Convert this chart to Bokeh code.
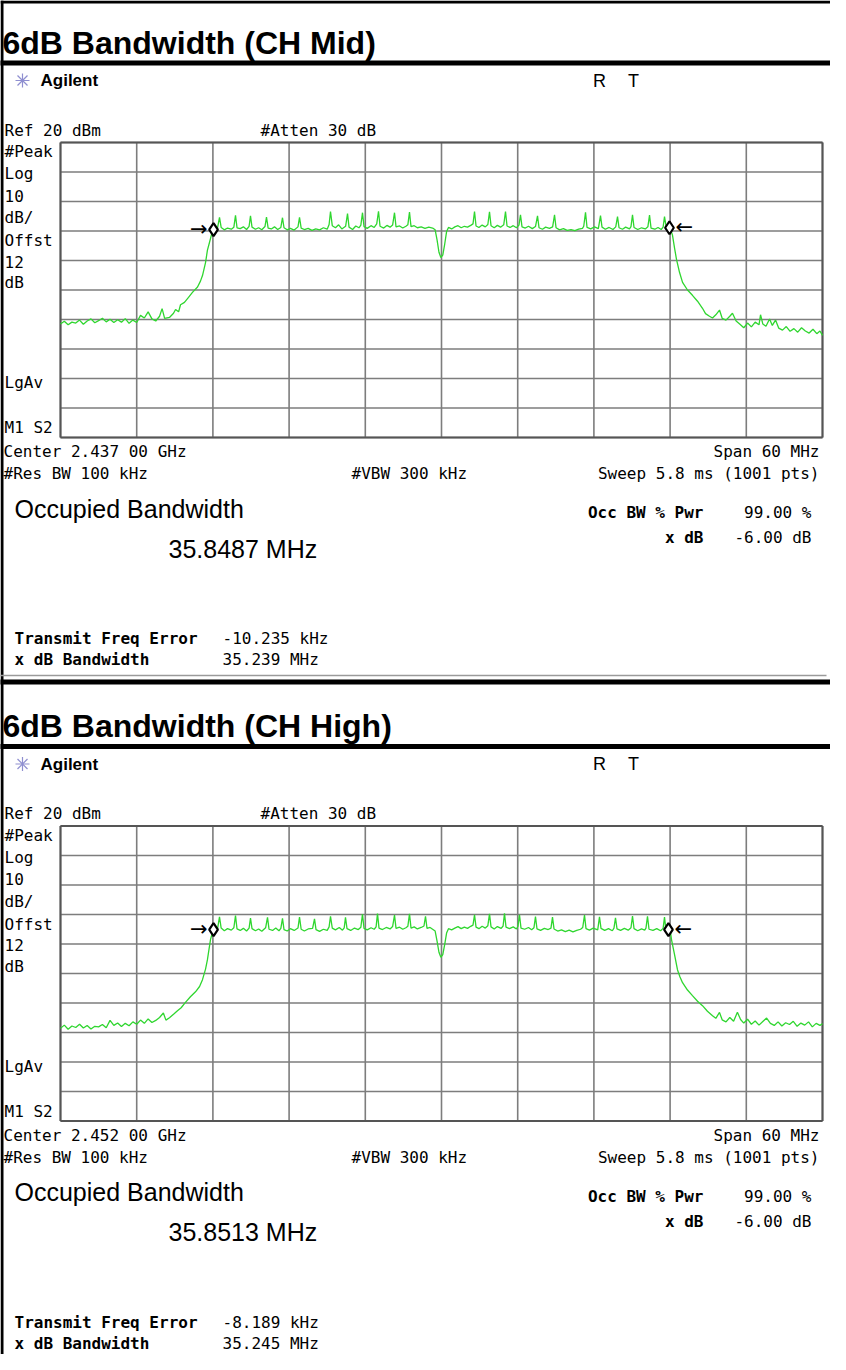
from bokeh.plotting import figure
from bokeh.models import Range1d
from bokeh.embed import file_html
from bokeh.resources import INLINE
from bokeh.core.properties import value

# ---------------- data ----------------
freq_divs = [-30, -24, -18, -12, -6, 0, 6, 12, 18, 24, 30]        # MHz offset from centre
level_divs = [20, 10, 0, -10, -20, -30, -40, -50, -60, -70, -80]  # dBm (Ref 20 dBm, 10 dB/div)

panel_titles = ["6dB Bandwidth (CH Mid)", "6dB Bandwidth (CH High)"]
center_labels = ["Center 2.437 00 GHz", "Center 2.452 00 GHz"]
occ_bw_values = ["35.8487 MHz", "35.8513 MHz"]
freq_err_values = ["-10.235 kHz", "-8.189 kHz"]
xdb_bw_values = ["35.239 MHz", "35.245 MHz"]

left_labels = ["#Peak", "Log", "10", "dB/", "Offst", "12", "dB", "LgAv", "M1 S2"]

# trace of CH Mid: (MHz offset, dBm)
mid_trace = [
    (-30.0, -41.5), (-29.7, -40.6), (-29.4, -41.8), (-29.1, -40.9), (-28.8, -41.2), (-28.5, -40.2),
    (-28.2, -41.6), (-27.9, -40.5), (-27.6, -39.8), (-27.3, -41.1), (-27.0, -40.4), (-26.7, -39.6),
    (-26.4, -40.8), (-26.1, -39.9), (-25.8, -41.0), (-25.5, -40.1), (-25.2, -40.9), (-24.9, -39.7),
    (-24.6, -41.3), (-24.3, -40.2), (-24.0, -41.0), (-23.7, -38.6), (-23.4, -39.5), (-23.1, -37.4),
    (-22.8, -39.8), (-22.5, -40.5), (-22.2, -38.9), (-22.0, -36.3), (-21.8, -39.6),
    (-21.42, -39.3), (-21.1, -37.9), (-20.94, -36.6), (-20.7, -37.4), (-20.55, -35.0), (-20.24, -34.2),
    (-19.92, -32.5), (-19.61, -30.8), (-19.21, -29.0), (-18.98, -27.0), (-18.82, -25.1), (-18.58, -20.7),
    (-18.43, -16.5), (-18.27, -13.9), (-18.11, -11.2), (-17.95, -9.5),
    (-17.80, -8.6), (-17.65, -9.3), (-17.48, -5.4), (-17.35, -8.8), (-17.10, -9.6), (-16.85, -9.0),
    (-16.55, -9.4), (-16.35, -8.7), (-16.22, -4.7), (-16.10, -8.9), (-15.85, -9.2), (-15.60, -8.6),
    (-15.35, -9.5), (-15.15, -8.4), (-15.04, -4.9), (-14.92, -8.7), (-14.65, -9.4), (-14.40, -8.9),
    (-14.15, -9.6), (-13.90, -8.5), (-13.78, -5.3), (-13.65, -9.0), (-13.40, -9.3), (-13.15, -8.6),
    (-12.90, -9.5), (-12.65, -8.8), (-12.52, -5.5), (-12.40, -8.9), (-12.15, -9.6), (-11.90, -9.1),
    (-11.60, -9.7), (-11.30, -8.6), (-11.18, -5.4), (-11.05, -9.0), (-10.80, -9.5), (-10.50, -9.1),
    (-10.20, -9.8), (-9.90, -9.3), (-9.60, -9.6), (-9.30, -8.9), (-9.00, -9.4), (-8.85, -7.8),
    (-8.74, -3.4), (-8.60, -8.2), (-8.35, -8.9), (-8.10, -7.9), (-7.85, -9.3), (-7.55, -8.4),
    (-7.40, -4.1), (-7.28, -8.7), (-7.00, -9.5), (-6.75, -8.3), (-6.50, -8.9), (-6.35, -8.0),
    (-6.22, -3.8), (-6.10, -8.5), (-5.85, -9.1), (-5.55, -8.2), (-5.30, -8.8), (-5.10, -7.6),
    (-4.96, -3.3), (-4.84, -8.4), (-4.55, -9.0), (-4.30, -8.1), (-4.05, -8.7), (-3.85, -8.0),
    (-3.70, -3.8), (-3.58, -8.6), (-3.30, -8.3), (-3.05, -9.0), (-2.80, -8.4), (-2.65, -7.9),
    (-2.52, -3.6), (-2.40, -8.5), (-2.15, -8.2), (-1.90, -8.9), (-1.60, -8.6), (-1.30, -9.1),
    (-1.00, -8.7), (-0.70, -9.0), (-0.50, -9.6), (-0.35, -13.0), (-0.20, -17.2), (-0.05, -19.0),
    (0.10, -18.2), (0.25, -14.5), (0.40, -10.2), (0.55, -8.8), (0.80, -9.3), (1.05, -8.6),
    (1.30, -8.2), (1.55, -8.9), (1.80, -8.4), (2.05, -8.7), (2.30, -8.1), (2.48, -7.6),
    (2.60, -3.4), (2.72, -8.3), (2.95, -8.8), (3.20, -8.0), (3.45, -8.6), (3.65, -7.8),
    (3.78, -3.5), (3.90, -8.2), (4.15, -8.9), (4.40, -8.1), (4.65, -8.7), (4.90, -7.9),
    (5.04, -3.4), (5.16, -8.3), (5.40, -8.8), (5.65, -8.2), (5.90, -8.9), (6.10, -8.0),
    (6.22, -4.5), (6.34, -8.6), (6.60, -9.0), (6.85, -8.4), (7.15, -9.2), (7.40, -8.5),
    (7.56, -4.9), (7.68, -8.9), (7.95, -9.4), (8.20, -8.7), (8.50, -9.1), (8.75, -8.6),
    (8.90, -4.5), (9.02, -8.9), (9.30, -9.6), (9.60, -9.2), (9.90, -9.8), (10.20, -9.5),
    (10.50, -9.9), (10.80, -9.4), (11.10, -9.1), (11.20, -8.4), (11.34, -3.7), (11.46, -8.8),
    (11.75, -9.3), (12.05, -8.6), (12.35, -9.2), (12.52, -4.8), (12.64, -8.7), (12.90, -9.4),
    (13.20, -8.8), (13.50, -9.5), (13.72, -8.6), (13.86, -5.1), (13.98, -8.9), (14.25, -9.4),
    (14.50, -8.7), (14.80, -9.3), (14.92, -8.5), (15.04, -4.5), (15.16, -8.8), (15.45, -9.5),
    (15.75, -8.9), (16.05, -9.3), (16.25, -8.6), (16.38, -4.6), (16.50, -9.0), (16.80, -9.4),
    (17.05, -8.8), (17.30, -9.5), (17.45, -8.7), (17.56, -5.1), (17.70, -8.9), (17.95, -8.9),
    (18.03, -9.2), (18.19, -11.5), (18.35, -15.8), (18.50, -19.5), (18.74, -24.0), (18.98, -27.4),
    (19.37, -30.0), (19.76, -31.8), (20.16, -33.8), (20.55, -36.2), (20.79, -38.0), (21.10, -38.9),
    (21.34, -39.5), (21.60, -38.4), (21.89, -36.8), (22.10, -39.6), (22.40, -40.2), (22.70, -38.9),
    (22.91, -37.9), (23.20, -40.5), (23.50, -41.6), (23.80, -42.8), (24.10, -41.2), (24.40, -42.5),
    (24.70, -40.9), (25.00, -41.8), (25.12, -38.4), (25.30, -41.5), (25.55, -42.3), (25.83, -39.8),
    (26.05, -42.0), (26.30, -40.2), (26.55, -42.9), (26.85, -43.6), (27.15, -42.4), (27.45, -44.0),
    (27.75, -43.1), (28.05, -44.3), (28.35, -42.8), (28.65, -43.9), (28.95, -44.6), (29.25, -43.3),
    (29.55, -44.8), (29.80, -43.9), (30.00, -45.4),
]

# trace of CH High: (MHz offset, dBm)
high_trace = [
    (-30.0, -48.6), (-29.7, -47.5), (-29.4, -48.9), (-29.1, -47.8), (-28.8, -48.3), (-28.5, -47.2),
    (-28.2, -48.5), (-27.9, -47.6), (-27.6, -48.8), (-27.3, -47.9), (-27.0, -48.1), (-26.7, -47.3),
    (-26.4, -48.4), (-26.1, -45.9), (-25.8, -47.6), (-25.5, -46.8), (-25.2, -48.0), (-24.9, -46.9),
    (-24.6, -47.7), (-24.3, -46.4), (-24.0, -47.2), (-23.7, -45.8), (-23.4, -46.9), (-23.1, -45.4),
    (-22.8, -46.6), (-22.5, -45.9), (-22.2, -44.9), (-21.9, -43.4), (-21.7, -45.8),
    (-21.42, -45.0), (-21.10, -43.8), (-20.79, -42.6), (-20.50, -41.6), (-20.16, -39.8), (-19.77, -37.9),
    (-19.37, -36.2), (-19.05, -34.4), (-18.82, -32.1), (-18.58, -28.5), (-18.43, -25.3), (-18.19, -18.5),
    (-18.03, -16.0), (-17.95, -15.1),
    (-17.80, -14.3), (-17.65, -15.2), (-17.48, -10.8), (-17.35, -14.6), (-17.10, -15.5), (-16.85, -14.8),
    (-16.55, -15.3), (-16.35, -14.5), (-16.22, -10.4), (-16.10, -14.9), (-15.85, -15.4), (-15.60, -14.7),
    (-15.35, -15.6), (-15.15, -14.6), (-15.04, -11.2), (-14.92, -14.8), (-14.65, -15.5), (-14.40, -14.9),
    (-14.15, -15.7), (-13.85, -14.5), (-13.70, -11.0), (-13.58, -15.0), (-13.30, -15.4), (-13.05, -14.6),
    (-12.80, -15.5), (-12.65, -14.7), (-12.52, -11.3), (-12.40, -15.1), (-12.15, -15.6), (-11.90, -14.8),
    (-11.60, -15.4), (-11.30, -14.6), (-11.18, -10.9), (-11.05, -15.0), (-10.80, -15.6), (-10.50, -14.9),
    (-10.15, -14.7), (-10.00, -11.5), (-9.88, -15.1), (-9.60, -15.7), (-9.30, -15.0), (-9.00, -15.4),
    (-8.85, -14.2), (-8.74, -10.6), (-8.60, -14.6), (-8.35, -15.2), (-8.05, -14.4), (-7.80, -15.3),
    (-7.66, -14.5), (-7.56, -11.0), (-7.44, -14.8), (-7.15, -15.4), (-6.85, -14.6), (-6.55, -15.1),
    (-6.35, -14.3), (-6.22, -9.9), (-6.10, -14.7), (-5.85, -15.2), (-5.55, -14.5), (-5.30, -15.0),
    (-5.15, -14.2), (-5.04, -9.7), (-4.92, -14.6), (-4.65, -15.1), (-4.35, -14.4), (-4.05, -14.9),
    (-3.85, -14.1), (-3.70, -10.2), (-3.58, -14.7), (-3.30, -14.3), (-3.05, -15.0), (-2.80, -14.5),
    (-2.65, -14.0), (-2.52, -9.8), (-2.40, -14.6), (-2.15, -14.2), (-1.90, -14.9), (-1.60, -14.4),
    (-1.38, -13.9), (-1.26, -10.6), (-1.14, -14.7), (-0.90, -14.4), (-0.70, -15.0), (-0.50, -15.6),
    (-0.35, -19.0), (-0.20, -22.8), (-0.05, -24.5), (0.10, -23.6), (0.25, -20.2), (0.40, -16.3),
    (0.55, -14.8), (0.80, -15.2), (1.05, -14.6), (1.30, -14.1), (1.55, -14.8), (1.80, -14.3),
    (2.05, -14.7), (2.30, -14.0), (2.48, -13.6), (2.60, -10.1), (2.72, -14.3), (2.95, -14.8),
    (3.20, -14.0), (3.45, -14.6), (3.65, -13.8), (3.78, -9.8), (3.90, -14.2), (4.15, -14.9),
    (4.40, -14.1), (4.70, -14.7), (4.85, -13.9), (4.96, -9.6), (5.08, -14.3), (5.35, -14.8),
    (5.65, -14.2), (5.90, -14.9), (6.02, -14.0), (6.14, -10.1), (6.26, -14.6), (6.55, -15.0),
    (6.85, -14.4), (7.10, -15.2), (7.28, -14.5), (7.40, -10.7), (7.52, -14.9), (7.80, -15.4),
    (8.10, -14.7), (8.40, -15.1), (8.62, -14.6), (8.74, -10.9), (8.86, -14.9), (9.15, -15.6),
    (9.45, -15.2), (9.75, -15.8), (10.05, -15.3), (10.35, -15.9), (10.65, -15.4), (10.95, -15.0),
    (11.12, -14.4), (11.26, -10.2), (11.38, -14.8), (11.65, -15.3), (11.95, -14.6), (12.30, -15.2),
    (12.44, -10.8), (12.56, -14.7), (12.85, -15.4), (13.15, -14.8), (13.45, -15.5), (13.58, -14.6),
    (13.70, -11.1), (13.82, -14.9), (14.10, -15.4), (14.40, -14.7), (14.70, -15.3), (14.92, -14.5),
    (15.04, -10.5), (15.16, -14.8), (15.45, -15.5), (15.75, -14.9), (16.00, -15.3), (16.10, -14.6),
    (16.22, -10.6), (16.34, -15.0), (16.65, -15.4), (16.95, -14.8), (17.25, -15.5), (17.45, -14.7),
    (17.56, -10.9), (17.68, -15.6), (17.87, -15.1),
    (18.03, -16.0), (18.11, -18.5), (18.35, -23.6), (18.58, -28.7), (18.78, -31.2), (18.98, -33.1),
    (19.37, -35.6), (19.76, -37.5), (20.16, -39.4), (20.55, -40.9), (20.94, -42.8), (21.34, -44.3),
    (21.60, -45.2), (21.89, -43.2), (22.10, -45.7), (22.40, -46.4), (22.70, -44.9), (23.00, -46.2),
    (23.30, -43.1), (23.55, -45.6), (23.80, -46.8), (24.10, -45.5), (24.40, -47.2), (24.70, -46.1),
    (25.00, -47.5), (25.30, -46.3), (25.60, -45.1), (25.90, -46.9), (26.20, -47.6), (26.50, -46.4),
    (26.80, -47.8), (27.10, -46.7), (27.40, -47.3), (27.70, -46.2), (28.00, -47.9), (28.30, -46.8),
    (28.60, -47.5), (28.90, -46.4), (29.20, -48.1), (29.50, -46.9), (29.80, -47.6), (30.00, -47.0),
]

mid_markers = [(-17.95, -9.5), (17.95, -8.9)]
high_markers = [(-17.95, -15.1), (17.87, -15.1)]

traces = [mid_trace, high_trace]
markers = [mid_markers, high_markers]

# ---------------- layout (reference pixels) ----------------
W, H = 830, 1354
OFF = 8                      # page margin
PANEL_DY = 683.5             # vertical distance between the two panels
GRID_L, GRID_R = 68, 830
GRID_TOP = 150
GRID_H = 295

MONO = "DejaVu Sans Mono"
SANS = "Liberation Sans"
GREEN = "#2fd62f"

p = figure(width=W, height=H, x_range=Range1d(0, W), y_range=Range1d(H, 0),
           x_axis_type=None, y_axis_type=None, output_backend="svg",
           toolbar_location=None, min_border=0, outline_line_color=None)
p.grid.visible = False
p.background_fill_color = "white"

x_span = 60.0
mhz_per_px = x_span / (GRID_R - GRID_L)
p.extra_x_ranges = {"mhz": Range1d(-30 - (GRID_L - OFF) * mhz_per_px,
                                   30 + (W - (GRID_R - OFF)) * mhz_per_px)}
db_per_px = 100.0 / GRID_H
for k in range(2):
    t = GRID_TOP + k * PANEL_DY - OFF
    p.extra_y_ranges["p%d" % k] = Range1d(20 - (H - t) * db_per_px, 20 + t * db_per_px)


def txt(x, y, s, size, font=MONO, bold=False, align="left", baseline="middle", color="black"):
    p.text(x=[x - OFF], y=[y - OFF], text=[s], text_font=value(font),
           text_font_size="%gpx" % size, text_font_style="bold" if bold else "normal",
           text_align=align, text_baseline=baseline, text_color=color)


def hbar(y0, y1, x0=0, x1=W + OFF, color="black"):
    p.quad(left=[x0 - OFF], right=[x1 - OFF], top=[y0 - OFF], bottom=[y1 - OFF],
           fill_color=color, line_color=None)


# left border and top border (partly inside the page margin)
p.quad(left=[0], right=[3], top=[0], bottom=[H], fill_color="black", line_color=None)
p.quad(left=[0], right=[W], top=[0], bottom=[3], fill_color="black", line_color=None)

for k in range(2):
    dy = k * PANEL_DY
    rn = "p%d" % k
    # frame lines
    if k == 1:
        hbar(687 + dy - PANEL_DY, 692 + dy - PANEL_DY)
    hbar(68 + dy, 73 + dy)
    p.segment(x0=[0], y0=[683 + dy - OFF], x1=[834 - OFF], y1=[683 + dy - OFF],
              line_color="#9a9a9a", line_width=1.5)

    # title
    txt(10, 50 + dy, panel_titles[k], 32, font=SANS, bold=True, baseline="alphabetic")

    # Agilent header with starburst logo
    cx, cy = 30 - OFF, 88 + dy - OFF
    p.segment(x0=[cx - 7, cx, cx - 5, cx - 5], y0=[cy, cy - 7, cy - 5, cy + 5],
              x1=[cx + 7, cx, cx + 5, cx + 5], y1=[cy, cy + 7, cy + 5, cy - 5],
              line_color="#8f8fd0", line_width=1.2)
    txt(48, 88 + dy, "Agilent", 17, font=SANS, bold=True)
    txt(607, 88 + dy, "R", 18, font=SANS, align="center")
    txt(641, 88 + dy, "T", 18, font=SANS, align="center")

    txt(12, 137.5 + dy, "Ref 20 dBm", 16)
    txt(268, 137.5 + dy, "#Atten 30 dB", 16)
    for lab, ly in zip(left_labels, [159, 181, 203, 225, 248, 269, 290, 390, 435]):
        txt(12, ly + dy, lab, 16)

    # graticule
    p.segment(x0=freq_divs, y0=[-80] * len(freq_divs), x1=freq_divs, y1=[20] * len(freq_divs),
              x_range_name="mhz", y_range_name=rn, line_color="#7d7d7d", line_width=1.6)
    p.segment(x0=[-30] * len(level_divs), y0=level_divs, x1=[30] * len(level_divs), y1=level_divs,
              x_range_name="mhz", y_range_name=rn, line_color="#7d7d7d", line_width=1.6)
    p.segment(x0=[-30, 30, -30, -30], y0=[20, 20, 20, -80], x1=[-30, 30, 30, 30], y1=[-80, -80, 20, -80],
              x_range_name="mhz", y_range_name=rn, line_color="#555555", line_width=2)

    # trace
    tf = [f for f, a in traces[k]]
    ta = [a for f, a in traces[k]]
    p.line(tf, ta, x_range_name="mhz", y_range_name=rn, line_color=GREEN, line_width=1.3)

    # -6 dB markers with arrows
    mf = [f for f, a in markers[k]]
    ma = [a for f, a in markers[k]]
    p.text(x=mf[:1], y=ma[:1], text=["\u2192"], x_range_name="mhz", y_range_name=rn,
           text_font=value("DejaVu Sans"), text_font_size="21px", text_align="right",
           text_baseline="middle", x_offset=-6, y_offset=-1, text_color="black")
    p.text(x=mf[1:], y=ma[1:], text=["\u2190"], x_range_name="mhz", y_range_name=rn,
           text_font=value("DejaVu Sans"), text_font_size="21px", text_align="left",
           text_baseline="middle", x_offset=6, y_offset=-1, text_color="black")
    p.scatter(mf, ma, marker="diamond", size=13, fill_color="white", line_color="black",
              line_width=2.2, x_range_name="mhz", y_range_name=rn)

    # settings below the graticule
    txt(11, 459 + dy, center_labels[k], 16)
    txt(827, 459 + dy, "Span 60 MHz", 16, align="right")
    txt(11, 481 + dy, "#Res BW 100 kHz", 16)
    txt(359, 481 + dy, "#VBW 300 kHz", 16)
    txt(827, 481 + dy, "Sweep 5.8 ms (1001 pts)", 16, align="right")

    # measurement results
    txt(22, 516 + dy, "Occupied Bandwidth", 25, font=SANS)
    txt(176, 556 + dy, occ_bw_values[k], 25, font=SANS)
    txt(711, 520 + dy, "Occ BW % Pwr", 16, bold=True, align="right")
    txt(819, 520 + dy, "99.00 %", 16, align="right")
    txt(711, 545 + dy, "x dB", 16, bold=True, align="right")
    txt(819, 545 + dy, "-6.00 dB", 16, align="right")
    txt(22, 646 + dy, "Transmit Freq Error", 16, bold=True)
    txt(230, 646 + dy, freq_err_values[k], 16)
    txt(22, 667 + dy, "x dB Bandwidth", 16, bold=True)
    txt(230, 667 + dy, xdb_bw_values[k], 16)

open("out.html", "w").write(file_html(p, INLINE))
